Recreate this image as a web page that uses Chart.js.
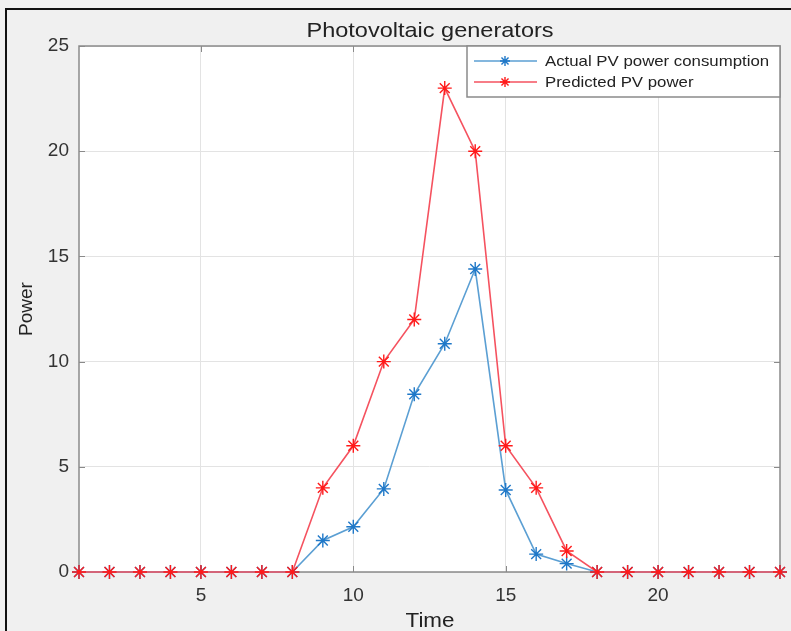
<!DOCTYPE html>
<html>
<head>
<meta charset="utf-8">
<script src="https://cdn.jsdelivr.net/npm/chart.js@4"></script>
<style>
  html, body { margin: 0; padding: 0; background: #f0f0f0; }
  #wrap { position: relative; width: 791px; height: 631px; }
  #frame { position: absolute; left: 5px; top: 8px; right: -5px; bottom: -5px; border-top: 2px solid #111; border-left: 2px solid #111; pointer-events: none; }
  canvas { position: absolute; left: 0; top: 0; }
</style>
</head>
<body>
<div id="wrap">
  <canvas id="chart_PV" width="791" height="631"></canvas>
  <div id="frame"></div>
</div>
<script>
const hours = [1,2,3,4,5,6,7,8,9,10,11,12,13,14,15,16,17,18,19,20,21,22,23,24];
const actualPV = [0,0,0,0,0,0,0,0,1.5,2.15,3.95,8.45,10.85,14.4,3.9,0.85,0.4,0,0,0,0,0,0,0];
const predictedPV = [0,0,0,0,0,0,0,0,4,6,10,12,23,20,6,4,1,0,0,0,0,0,0,0];
const xTicks = [5,10,15,20];
const yTicks = [0,5,10,15,20,25];

const FONT = 'Liberation Sans, Arial, Helvetica, sans-serif';
const STRETCH = 1.12; // text in the picture is a bit wide

function toPoints(vals) {
  return vals.map((v, i) => ({ x: hours[i], y: v }));
}

function wideText(ctx, text, x, y, size, align) {
  ctx.save();
  ctx.translate(x, y);
  ctx.scale(STRETCH, 1);
  ctx.font = size + 'px ' + FONT;
  ctx.textAlign = align;
  ctx.textBaseline = 'middle';
  ctx.fillText(text, 0, 0);
  ctx.restore();
}

// white plot area, title, axis labels, box, inward ticks and a matlab style legend
const matlabLook = {
  id: 'matlabLook',
  beforeDraw(chart) {
    const { ctx, chartArea: a } = chart;
    ctx.save();
    ctx.fillStyle = '#ffffff';
    ctx.fillRect(a.left, a.top, a.right - a.left, a.bottom - a.top);
    ctx.restore();
  },
  beforeDatasetsDraw(chart) {
    const { ctx, chartArea: a, scales } = chart;
    ctx.save();
    ctx.strokeStyle = '#8a8a8a';
    ctx.lineWidth = 1.5;
    ctx.strokeRect(a.left, a.top, a.right - a.left, a.bottom - a.top);
    ctx.lineWidth = 1;
    ctx.beginPath();
    xTicks.forEach(t => {
      const x = Math.round(scales.x.getPixelForValue(t)) + 0.5;
      ctx.moveTo(x, a.bottom); ctx.lineTo(x, a.bottom - 6);
      ctx.moveTo(x, a.top); ctx.lineTo(x, a.top + 6);
    });
    yTicks.forEach(t => {
      const y = Math.round(scales.y.getPixelForValue(t)) + 0.5;
      ctx.moveTo(a.left, y); ctx.lineTo(a.left + 6, y);
      ctx.moveTo(a.right, y); ctx.lineTo(a.right - 6, y);
    });
    ctx.stroke();
    ctx.restore();
  },
  afterDatasetsDraw(chart) {
    const { ctx, chartArea: a } = chart;
    ctx.save();
    ctx.fillStyle = '#222';
    wideText(ctx, 'Photovoltaic generators', 430, 31, 21, 'center');
    wideText(ctx, 'Time', 430, 621, 20, 'center');
    ctx.save();
    ctx.translate(27, 309);
    ctx.rotate(-Math.PI / 2);
    ctx.font = '19px ' + FONT;
    ctx.textAlign = 'center';
    ctx.textBaseline = 'middle';
    ctx.fillText('Power', 0, 0);
    ctx.restore();

    // legend
    const lx = 467, ly = a.top, lw = a.right - lx, lh = 51;
    ctx.fillStyle = '#ffffff';
    ctx.fillRect(lx, ly, lw, lh);
    ctx.strokeStyle = '#8a8a8a';
    ctx.lineWidth = 1.5;
    ctx.strokeRect(lx, ly, lw, lh);
    chart.data.datasets.forEach((ds, i) => {
      const y = ly + 15 + i * 21;
      ctx.strokeStyle = ds.borderColor;
      ctx.lineWidth = ds.borderWidth;
      ctx.beginPath();
      ctx.moveTo(474, y); ctx.lineTo(537, y);
      ctx.stroke();
      ctx.strokeStyle = ds.pointBorderColor;
      ctx.lineWidth = ds.pointBorderWidth;
      Chart.helpers.drawPoint(ctx, {
        pointStyle: 'star', radius: 5, borderWidth: ds.pointBorderWidth
      }, 505, y);
      ctx.fillStyle = '#222';
      wideText(ctx, ds.label, 545, y + 1, 15, 'left');
    });
    ctx.restore();
  }
};

const ctx = document.getElementById('chart_PV');

new Chart(ctx, {
  type: 'line',
  data: {
    datasets: [
      {
        label: 'Actual PV power consumption',
        data: toPoints(actualPV),
        order: 2,
        borderColor: '#5b9fd3',
        borderWidth: 1.6,
        pointStyle: 'star',
        pointRadius: 7,
        pointBorderColor: '#1f78c8',
        pointBorderWidth: 1.4,
        fill: false,
        clip: false,
        tension: 0
      },
      {
        label: 'Predicted PV power',
        data: toPoints(predictedPV),
        order: 1,
        borderColor: '#f5525f',
        borderWidth: 1.6,
        pointStyle: 'star',
        pointRadius: 7,
        pointBorderColor: '#ff1a1a',
        pointBorderWidth: 1.4,
        fill: false,
        clip: false,
        tension: 0
      }
    ]
  },
  options: {
    responsive: false,
    animation: false,
    layout: { padding: { top: 46, left: 0, right: 11, bottom: 0 } },
    scales: {
      x: {
        type: 'linear',
        min: 1,
        max: 24,
        afterFit(scale) { scale.height = 59; },
        afterBuildTicks(scale) { scale.ticks = xTicks.map(v => ({ value: v })); },
        grid: { color: '#e3e3e3', drawTicks: false },
        border: { display: false },
        ticks: { color: '#333', padding: 12, font: { size: 19, family: FONT } }
      },
      y: {
        min: 0,
        max: 25,
        afterFit(scale) { scale.width = 79; },
        afterBuildTicks(scale) { scale.ticks = yTicks.map(v => ({ value: v })); },
        grid: { color: '#e3e3e3', drawTicks: false },
        border: { display: false },
        ticks: { color: '#333', padding: 10, font: { size: 19, family: FONT } }
      }
    },
    plugins: {
      legend: { display: false },
      tooltip: { enabled: false }
    }
  },
  plugins: [matlabLook]
});
</script>
</body>
</html>
